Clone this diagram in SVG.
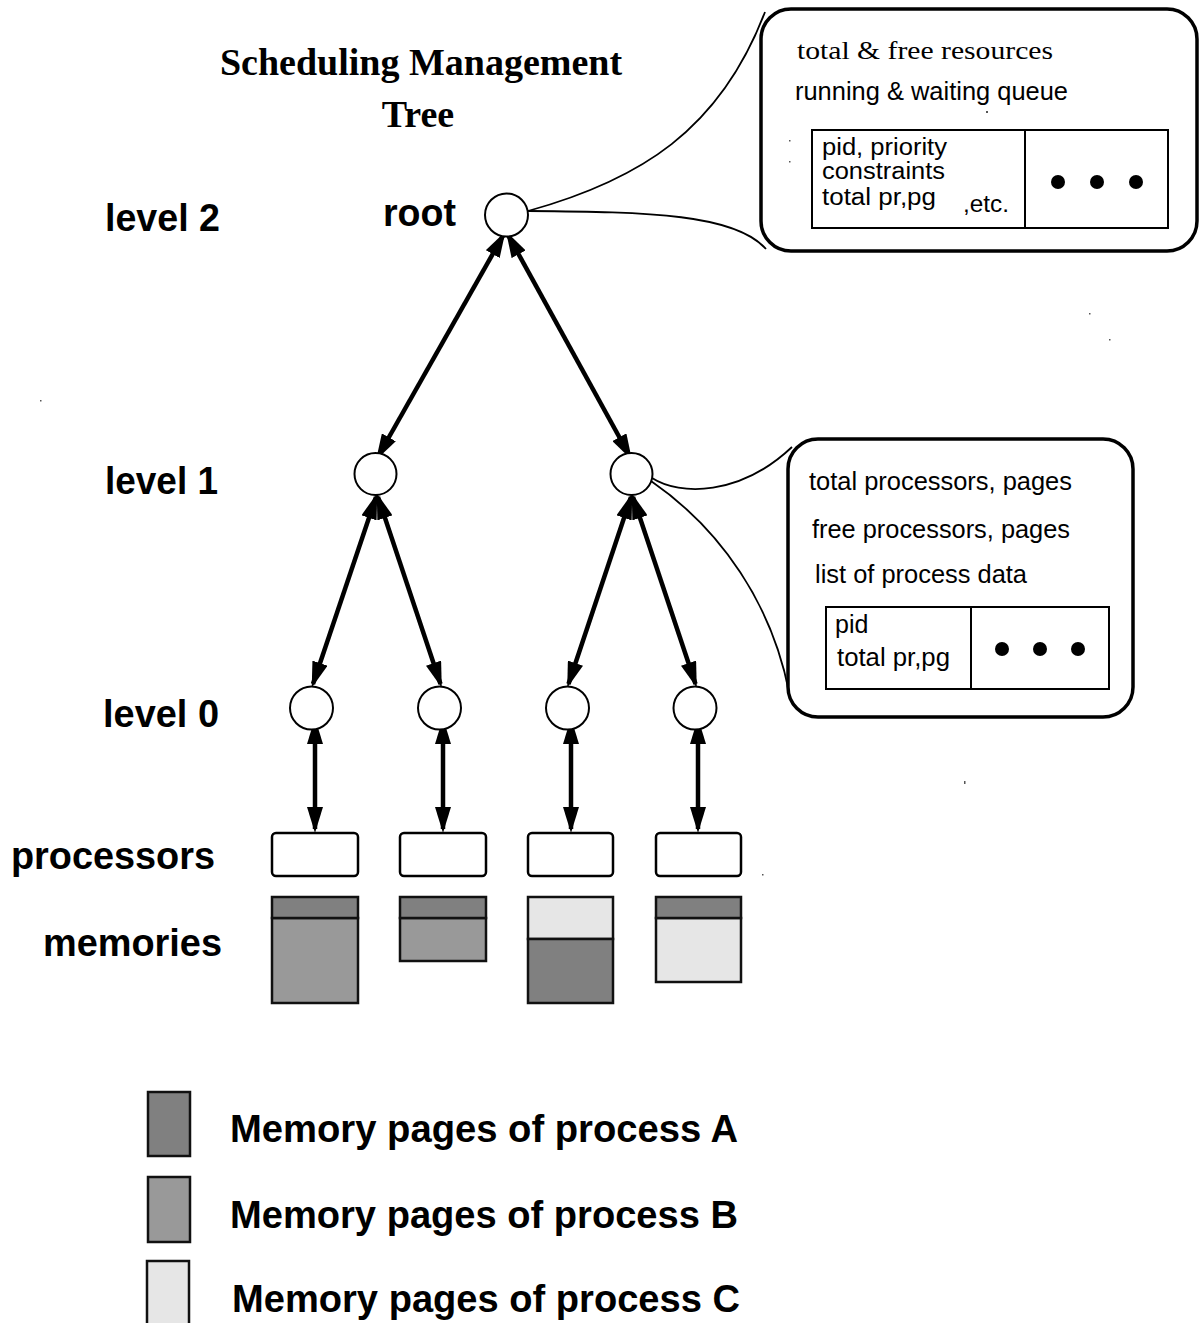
<svg xmlns="http://www.w3.org/2000/svg" width="1202" height="1323" viewBox="0 0 1202 1323">
<style>
.lbl{font-family:"Liberation Sans",Arial,sans-serif;font-weight:bold;font-size:38px;fill:#000}
.ttl{font-family:"Liberation Serif","Times New Roman",serif;font-weight:bold;font-size:38px;fill:#000}
.txt{font-family:"Liberation Sans",Arial,sans-serif;font-size:25px;fill:#000}
.sm{font-family:"Liberation Sans",Arial,sans-serif;font-size:23px;fill:#000}
.ser{font-family:"Liberation Serif","Times New Roman",serif;font-size:26px;fill:#000}
.node{fill:#fff;stroke:#000;stroke-width:2}
.proc{fill:#fff;stroke:#000;stroke-width:2.5}
.mem{stroke:#111;stroke-width:2.5}
.A{fill:#808080}.B{fill:#999999}.C{fill:#e6e6e6}
.arr{stroke:#000;stroke-width:4.5;fill:none;marker-start:url(#ah);marker-end:url(#ah)}
.thin{stroke:#000;stroke-width:1.8;fill:none}
.call{fill:#fff;stroke:#000;stroke-width:3.5}
.tbl{fill:none;stroke:#000;stroke-width:2}
.speck{fill:#555}
</style>
<defs>
<marker id="ah" viewBox="0 0 26 16" refX="22" refY="8" markerWidth="26" markerHeight="16" markerUnits="userSpaceOnUse" orient="auto-start-reverse">
<path d="M0,0 L26,8 L0,16 z" fill="#000"/>
</marker>
</defs>
<rect width="1202" height="1323" fill="#fff"/>

<g id="title">
<text class="ttl" x="421" y="75" text-anchor="middle">Scheduling Management</text>
<text class="ttl" x="418" y="127" text-anchor="middle">Tree</text>
</g>

<g id="level-labels">
<text class="lbl" x="105" y="231" textLength="115" lengthAdjust="spacingAndGlyphs">level 2</text>
<text class="lbl" x="105" y="494" textLength="113" lengthAdjust="spacingAndGlyphs">level 1</text>
<text class="lbl" x="103" y="727" textLength="116" lengthAdjust="spacingAndGlyphs">level 0</text>
<text class="lbl" x="11" y="869" textLength="204" lengthAdjust="spacingAndGlyphs">processors</text>
<text class="lbl" x="43" y="956" textLength="179" lengthAdjust="spacingAndGlyphs">memories</text>
<text class="lbl" x="383" y="226" textLength="73" lengthAdjust="spacingAndGlyphs">root</text>
</g>

<g id="connectors">
<path class="arr" d="M503.5,235 L378,456.5"/>
<path class="arr" d="M508,235 L630,456.5"/>
<path class="arr" d="M376,497 L313,684"/>
<path class="arr" d="M378,497 L440.5,684"/>
<path class="arr" d="M631,497 L568.5,684"/>
<path class="arr" d="M633,497 L695.5,684"/>
<path class="arr" d="M315,722 L315,829"/>
<path class="arr" d="M443,722 L443,829"/>
<path class="arr" d="M571,722 L571,829"/>
<path class="arr" d="M698,722 L698,829"/>
<path class="thin" d="M528,211 C640,180 720,130 765,12"/>
<path class="thin" d="M528,211 C650,212 735,214 766,249"/>
<path class="thin" d="M652,478 C680,496 740,496 792,447"/>
<path class="thin" d="M651,481 C722,530 772,605 789,692"/>
</g>

<g id="root"><circle class="node" cx="506.5" cy="215" r="21.5"/></g>
<g id="l1-left"><circle class="node" cx="375.5" cy="474" r="21"/></g>
<g id="l1-right"><circle class="node" cx="631.5" cy="474" r="21"/></g>
<g id="l0-1"><circle class="node" cx="311.5" cy="708" r="21.5"/></g>
<g id="l0-2"><circle class="node" cx="439.5" cy="708" r="21.5"/></g>
<g id="l0-3"><circle class="node" cx="567.5" cy="708" r="21.5"/></g>
<g id="l0-4"><circle class="node" cx="695" cy="708" r="21.5"/></g>

<g id="proc-1"><rect class="proc" x="272" y="833" width="86" height="43" rx="4"/></g>
<g id="proc-2"><rect class="proc" x="400" y="833" width="86" height="43" rx="4"/></g>
<g id="proc-3"><rect class="proc" x="528" y="833" width="85" height="43" rx="4"/></g>
<g id="proc-4"><rect class="proc" x="656" y="833" width="85" height="43" rx="4"/></g>

<g id="mem-1">
<rect class="mem B" x="272" y="918" width="86" height="85"/>
<rect class="mem A" x="272" y="897" width="86" height="21"/>
</g>
<g id="mem-2">
<rect class="mem B" x="400" y="918" width="86" height="43"/>
<rect class="mem A" x="400" y="897" width="86" height="21"/>
</g>
<g id="mem-3">
<rect class="mem C" x="528" y="897" width="85" height="42"/>
<rect class="mem A" x="528" y="939" width="85" height="64"/>
</g>
<g id="mem-4">
<rect class="mem C" x="656" y="918" width="85" height="64"/>
<rect class="mem A" x="656" y="897" width="85" height="21"/>
</g>

<g id="callout-root">
<rect class="call" x="761" y="9" width="436" height="242" rx="30"/>
<text class="ser" x="797" y="59" textLength="256" lengthAdjust="spacingAndGlyphs">total &amp; free resources</text>
<text class="txt" x="795" y="100" textLength="273" lengthAdjust="spacingAndGlyphs">running &amp; waiting queue</text>
<rect class="tbl" x="812" y="130" width="356" height="98"/>
<line class="tbl" x1="1025" y1="130" x2="1025" y2="228"/>
<text class="sm" x="822" y="155" textLength="125" lengthAdjust="spacingAndGlyphs">pid, priority</text>
<text class="sm" x="822" y="179" textLength="123" lengthAdjust="spacingAndGlyphs">constraints</text>
<text class="sm" x="822" y="205" textLength="114" lengthAdjust="spacingAndGlyphs">total pr,pg</text>
<text class="sm" x="963" y="212" textLength="46" lengthAdjust="spacingAndGlyphs">,etc.</text>
<circle cx="1058" cy="182" r="7"/>
<circle cx="1097" cy="182" r="7"/>
<circle cx="1136" cy="182" r="7"/>
</g>

<g id="callout-l1">
<rect class="call" x="788" y="439" width="345" height="278" rx="30"/>
<text class="txt" x="809" y="490" textLength="263" lengthAdjust="spacingAndGlyphs">total processors, pages</text>
<text class="txt" x="812" y="538" textLength="258" lengthAdjust="spacingAndGlyphs">free processors, pages</text>
<text class="txt" x="815" y="583" textLength="212" lengthAdjust="spacingAndGlyphs">list of process data</text>
<rect class="tbl" x="826" y="607" width="283" height="82"/>
<line class="tbl" x1="971" y1="607" x2="971" y2="689"/>
<text class="txt" x="835" y="633">pid</text>
<text class="txt" x="837" y="666" textLength="113" lengthAdjust="spacingAndGlyphs">total pr,pg</text>
<circle cx="1002" cy="649" r="7"/>
<circle cx="1040" cy="649" r="7"/>
<circle cx="1078" cy="649" r="7"/>
</g>

<g id="legend">
<rect class="mem A" x="148" y="1092" width="42" height="64"/>
<rect class="mem B" x="148" y="1177" width="42" height="65"/>
<rect class="mem C" x="147" y="1261" width="42" height="80"/>
<text class="lbl" x="230" y="1142" textLength="508" lengthAdjust="spacingAndGlyphs">Memory pages of process A</text>
<text class="lbl" x="230" y="1228" textLength="508" lengthAdjust="spacingAndGlyphs">Memory pages of process B</text>
<text class="lbl" x="232" y="1312" textLength="508" lengthAdjust="spacingAndGlyphs">Memory pages of process C</text>
</g>

<g id="specks">
<rect class="speck" x="986" y="111" width="2" height="2"/>
<rect class="speck" x="789" y="140" width="1.5" height="1.5"/>
<rect class="speck" x="789" y="161" width="1.5" height="1.5"/>
<rect class="speck" x="1089" y="313" width="1.5" height="1.5"/>
<rect class="speck" x="1109" y="339" width="1.5" height="1.5"/>
<rect class="speck" x="40" y="400" width="1.5" height="1.5"/>
<rect class="speck" x="964" y="781" width="1.5" height="3"/>
<rect class="speck" x="762" y="874" width="1.5" height="1.5"/>
</g>
</svg>
